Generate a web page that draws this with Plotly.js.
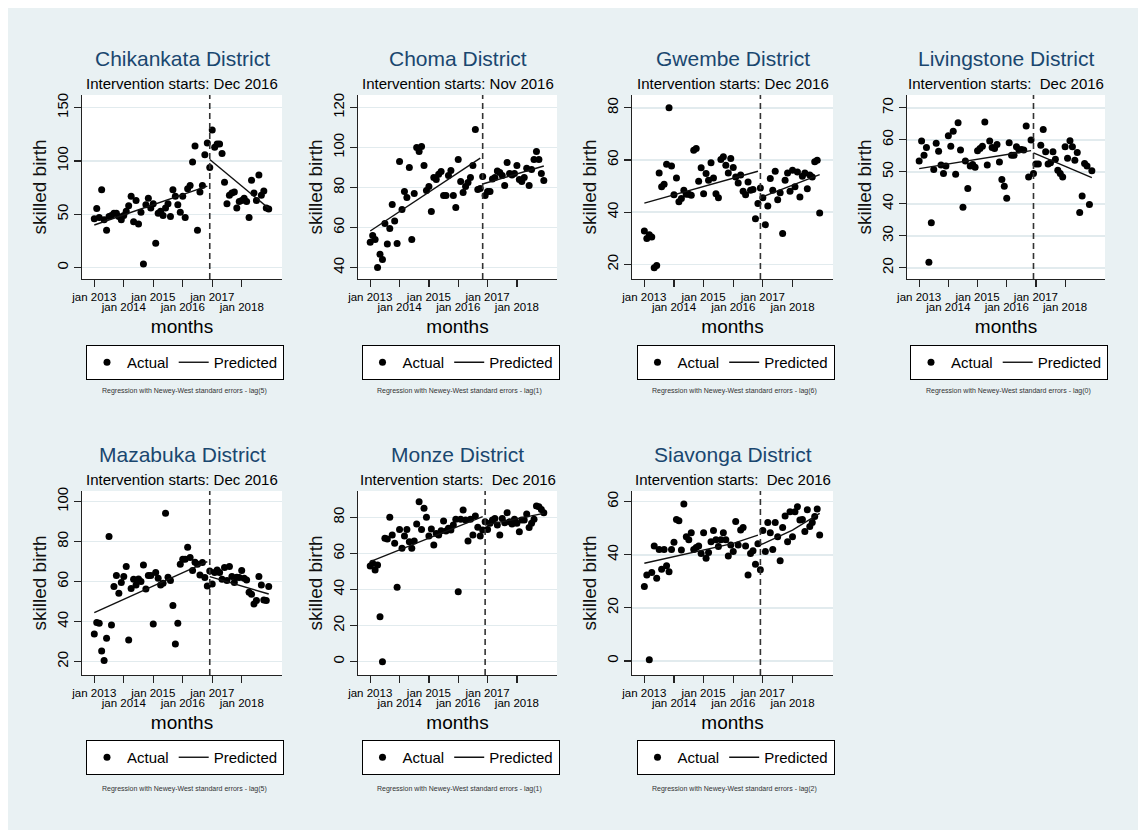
<!DOCTYPE html>
<html>
<head>
<meta charset="utf-8">
<script src="https://cdn.plot.ly/plotly-3.0.1.min.js"></script>
<style>
html,body{margin:0;padding:0;background:#ffffff;}
#chart{width:1138px;height:830px;}
</style>
</head>
<body>
<div id="chart"></div>
<script>
// ---------- DATA ----------
const districts = ["Chikankata District","Choma District","Gwembe District","Livingstone District","Mazabuka District","Monze District","Siavonga District"];
const interventionText = ["Intervention starts: Dec 2016","Intervention starts: Nov 2016","Intervention starts: Dec 2016","Intervention starts:\u00a0 Dec 2016","Intervention starts: Dec 2016","Intervention starts:\u00a0 Dec 2016","Intervention starts:\u00a0 Dec 2016"];
const interventionMonth = [47,46,47,47,47,47,47]; // months since jan 2013
const lagNotes = ["lag(5)","lag(1)","lag(6)","lag(0)","lag(5)","lag(1)","lag(2)"];
const tickMonths = [0,12,24,36,48,60];
const tickLabels = ["jan 2013","jan 2014","jan 2015","jan 2016","jan 2017","jan 2018"];
const nMonths = 72;

const chikankataActual = [46,55.6,47,73,45,35,48,49,51,51,48,45,49,53,58,67,43,63,41,52,3.4,59,65,56,60,23,51,53,49,56,60,48,73,67,59,52,67,47,74,77,99,114,35,71,77,106,117,94,
  129,113,116,116,107,80,60,68,70,71,56,62,63,65,62,47,82,70,63,87,68,72,56,55];
const chomaActual = [52.7,56,54,40,46.7,44,62,51.8,59.5,71.5,63.3,52,93,69,78,75,90,54,77,100,98,100.5,91,78.5,80.5,68,85,84,86.7,88,76,76,86,88.5,76,70,94,83,77.5,80.5,82.5,85,91,109,79,79.5,
  85.5,76,78,78,84.3,85,88.3,87.5,86,81,92.5,87,86.3,87,91,84,83,85,89.7,81,89,94,98,94,87,83.5];
const gwembeActual = [32.8,29.9,31.4,30.5,18.7,19.6,55,49.7,50.7,58.4,80,57.7,46.7,53.1,44,45.2,48.4,46.9,46.9,46.5,63.7,64.4,51.9,57,47.1,54.8,52.2,58.9,53.1,47.1,45.5,60.2,61.2,58,55,60.6,57.1,53.5,51.2,54.2,48,46.7,51.6,48.4,48.7,37.5,43.3,49.3,
  45.5,35.2,42.4,52.9,48.4,55.7,44.8,47.4,31.8,52.2,55,48,56.1,49.7,55.4,45.8,53.8,55,49,54.2,53.5,59.3,59.9,39.7];
const livingstoneActual = [53.4,59.6,55.2,57.6,21.7,34.1,50.7,58.9,56.4,52.1,49.5,51.8,61.3,58,62.7,49.2,65.3,56.8,38.9,53.4,44.8,51.8,52.3,51.4,56.6,57.3,58,65.6,52.1,59.6,57.6,57.3,58.5,53.1,47.6,45.5,41.7,59.1,55.2,55.2,57.8,56.8,57,56.8,64.3,48.4,59.9,49.5,
  52.4,52.4,58.3,63.2,56.3,52.4,52.8,56.3,53.9,50.5,49.5,48.4,57.8,54.2,59.7,57.8,53.6,56,37.3,42.4,52.6,51.8,39.8,50.3];
const mazabukaActual = [33.8,39.5,39.2,25.3,20.5,31.7,82.5,38.3,57.5,63,54.2,59.5,62.5,67.5,30.8,56.5,61.2,58.3,61.3,60,68.3,56.3,63,63,38.8,64.5,61.7,58.3,59.2,94.2,62.2,60.5,48,28.8,39.2,68.7,71.2,71.2,77.2,72,65.5,69.7,68.7,63.3,69.5,62,57.8,65.3,
  58.8,64.5,65.8,64.5,61.2,67,60.5,67.5,62.5,59.5,62.2,62,65.5,61.7,60.8,54.7,53.7,48.8,50.5,62.5,58.3,50.8,50.5,57.5];
const monzeActual = [53,54.5,50.8,53.6,24.9,0,68.4,68,80,70.2,65.6,41.2,73.3,62.8,69.7,73.3,66.5,62.8,66.9,76.3,88.7,73.3,85,80,69.7,73.5,64.7,71.1,70.2,72.6,78,72.4,73.9,73,75.7,78.9,38.8,78.9,84.1,78.5,66.9,78.9,70.2,80.7,74.5,69.7,73,77.6,
  73.3,76.7,78.5,79.4,75.7,70.2,79.4,77,82.6,77.6,76.3,78.9,76.7,72,78.5,78.5,81.8,74.3,76.7,78.9,86.3,85.9,84.4,82.6];
const siavongaActual = [28,32.4,0.4,33.3,43.3,31.1,42,34.5,42,35.8,33.6,42,44.7,53.3,52.8,41.8,59.1,46.8,45.6,48.3,42,42.7,43.3,40.5,48.3,38.7,40.8,44.9,49.1,45.6,43.1,45.6,48.3,45.6,39.5,43.7,41.2,52.5,43.7,49.3,50.3,43.3,32.4,40.5,41.5,36.4,44.1,34.3,
  49.1,41.2,52.1,48.3,42,52.1,46.8,37.7,50.3,54.6,44.9,56.2,46.8,56.2,58.1,53.1,53.3,48.7,56.9,50.6,52.1,54.4,57.2,47.4];

// Predicted (fitted) values: month index and value, pre- and post-intervention
const chikankataPreX = [0,46],  chikankataPreY = [40,76.5],   chikankataPostX = [47,71], chikankataPostY = [101.5,55.6];
const chomaPreX = [0,45],       chomaPreY = [58.3,94.7],      chomaPostX = [46,71],      chomaPostY = [81.8,90.8];
const gwembePreX = [0,46],      gwembePreY = [43.5,55.7],     gwembePostX = [47,71],     gwembePostY = [45.6,54.4];
const livingstonePreX = [0,46], livingstonePreY = [51,56.6],  livingstonePostX = [47,71],livingstonePostY = [55.9,48.2];
const mazabukaPreX = [0,46],    mazabukaPreY = [44.5,70],     mazabukaPostX = [47,71],   mazabukaPostY = [62.5,53.8];
const monzePreX = [0,46],       monzePreY = [55.4,80.4],      monzePostX = [47,71],      monzePostY = [75.7,82.2];
const siavongaPreX = [0,36,46], siavongaPreY = [36.8,44.3,47.4], siavongaPostX = [47,60,71], siavongaPostY = [43.7,49.3,55.6];

const actualSeries = [chikankataActual,chomaActual,gwembeActual,livingstoneActual,mazabukaActual,monzeActual,siavongaActual];
const preX = [chikankataPreX,chomaPreX,gwembePreX,livingstonePreX,mazabukaPreX,monzePreX,siavongaPreX];
const preY = [chikankataPreY,chomaPreY,gwembePreY,livingstonePreY,mazabukaPreY,monzePreY,siavongaPreY];
const postX = [chikankataPostX,chomaPostX,gwembePostX,livingstonePostX,mazabukaPostX,monzePostX,siavongaPostX];
const postY = [chikankataPostY,chomaPostY,gwembePostY,livingstonePostY,mazabukaPostY,monzePostY,siavongaPostY];

// y-axis ticks per panel
const yTicks = [[0,50,100,150],[40,60,80,100,120],[20,40,60,80],[20,30,40,50,60,70],[20,40,60,80,100],[0,20,40,60,80],[0,20,40,60]];

// ---------- LAYOUT ----------
const W = 1138, H = 830;
const FONT = "Liberation Sans, Arial, Helvetica, sans-serif";
const BG = "#e9f1f3";
const months = Array.from({length:nMonths}, (_, i) => i);

const colPx = [[82,282],[358,557],[632,833],[907,1105]];
const rowPx = [[95,279],[491,675]];
const yRanges = [[-10.6,161.9],[34.3,126.3],[14.4,84.9],[16.5,74.0],[13.3,105.3],[-7.4,94.6],[-5.3,64.0]];
const xRange = [-5, 76.4];

const traces = [];
const layout = {
  width: W, height: H,
  margin: {l:0, r:0, t:0, b:0},
  paper_bgcolor: BG,
  plot_bgcolor: "#ffffff",
  font: {family: FONT, color: "#000"},
  showlegend: true,
  annotations: [],
  shapes: [
    {type:"rect", xref:"paper", yref:"paper", x0:0, x1:8/W, y0:0, y1:1, fillcolor:"#ffffff", line:{width:0}, layer:"below"},
    {type:"rect", xref:"paper", yref:"paper", x0:0, x1:1, y0:1-8/H, y1:1, fillcolor:"#ffffff", line:{width:0}, layer:"below"}
  ]
};

for (let k = 0; k < 7; k++) {
  const n = k + 1;
  const row = k < 4 ? 0 : 1;
  const col = k < 4 ? k : k - 4;
  const xs = n === 1 ? "" : String(n);
  const xName = "x" + xs, yName = "y" + xs;
  const ovName = "x" + (7 + n);
  const legName = "legend" + xs;
  const [px0, px1] = colPx[col];
  const [py0, py1] = rowPx[row];
  const xDom = [px0 / W, px1 / W];
  const yDom = [1 - py1 / H, 1 - py0 / H];
  const cx = (px0 + px1) / 2;

  // traces
  traces.push({
    type:"scatter", mode:"markers", x: months, y: actualSeries[k],
    xaxis: xName, yaxis: yName, name:"Actual", legend: legName,
    marker:{color:"#000", size:7}, cliponaxis:false, hoverinfo:"skip"
  });
  traces.push({
    type:"scatter", mode:"lines", x: preX[k], y: preY[k],
    xaxis: xName, yaxis: yName, name:"Predicted", legend: legName,
    line:{color:"#111", width:1.4}, hoverinfo:"skip"
  });
  traces.push({
    type:"scatter", mode:"lines", x: postX[k], y: postY[k],
    xaxis: xName, yaxis: yName, name:"Predicted", legend: legName, showlegend:false,
    line:{color:"#111", width:1.4}, hoverinfo:"skip"
  });
  // empty carrier trace so the overlay axis (staggered tick labels) is drawn
  traces.push({
    type:"scatter", mode:"markers", x:[null], y:[null],
    xaxis: ovName, yaxis: yName, showlegend:false, legend: legName, hoverinfo:"skip"
  });

  // main axes
  layout["xaxis" + xs] = {
    domain: xDom, anchor: yName, range: xRange,
    tickmode:"array", tickvals: tickMonths,
    ticktext: tickLabels.map((t, i) => i % 2 === 0 ? t : ""),
    ticks:"outside", ticklen:7, tickwidth:1.2, tickcolor:"#222",
    tickfont:{size:11.5, color:"#000", family:FONT},
    showline:true, linecolor:"#222", linewidth:1.2,
    showgrid:false, zeroline:false,
    title:{text:"months", font:{size:19, color:"#000", family:FONT}, standoff:17}
  };
  layout["yaxis" + xs] = {
    domain: yDom, anchor: xName, range: yRanges[k],
    tickmode:"array", tickvals: yTicks[k],
    ticks:"outside", ticklen:7, tickwidth:1.2, tickcolor:"#222",
    tickangle:-90, tickfont:{size:15, color:"#000", family:FONT},
    showline:true, linecolor:"#222", linewidth:1.2,
    showgrid:true, gridcolor:"#e2ebee", gridwidth:1.6, zeroline:false,
    title:{text:"skilled birth", font:{size:19, color:"#111", family:FONT}, standoff:2}
  };
  // overlay axis for the staggered (second-row) tick labels
  layout["xaxis" + (7 + n)] = {
    overlaying: xName, anchor: yName, side:"bottom", range: xRange,
    tickmode:"array", tickvals: tickMonths.filter((_, i) => i % 2 === 1),
    ticktext: tickLabels.filter((_, i) => i % 2 === 1),
    ticks:"", showline:false, showgrid:false, zeroline:false,
    ticklabelstandoff: 19,
    tickfont:{size:11.5, color:"#000", family:FONT}
  };

  // intervention line
  layout.shapes.push({
    type:"line", xref:xName, yref:yName + " domain",
    x0: interventionMonth[k], x1: interventionMonth[k], y0:0, y1:1,
    line:{color:"#333", width:1.6, dash:"6px,4px"}
  });

  // titles
  const titleY = row === 0 ? 58.3 : 454;
  const subY = row === 0 ? 83.3 : 479.3;
  layout.annotations.push({
    xref:"paper", yref:"paper", x: cx / W, y: 1 - titleY / H,
    xanchor:"center", yanchor:"middle", showarrow:false,
    text: districts[k], font:{size:21, color:"#1a476f", family:FONT}
  });
  layout.annotations.push({
    xref:"paper", yref:"paper", x: cx / W, y: 1 - subY / H,
    xanchor:"center", yanchor:"middle", showarrow:false,
    text: interventionText[k], font:{size:15, color:"#000", family:FONT}
  });
  // note
  const noteY = row === 0 ? 391 : 789;
  layout.annotations.push({
    xref:"paper", yref:"paper", x: (cx + 2) / W, y: 1 - noteY / H,
    xanchor:"center", yanchor:"middle", showarrow:false,
    text: "Regression with Newey-West standard errors - " + lagNotes[k],
    font:{size:7, color:"#333", family:FONT}
  });

  // legend
  const legTop = row === 0 ? 345 : 740;
  layout[legName] = {
    orientation:"h", x: (cx + 3) / W, xanchor:"center", y: 1 - legTop / H, yanchor:"top",
    bgcolor:"#ffffff", bordercolor:"#000", borderwidth:1,
    font:{size:15, color:"#000", family:FONT},
    itemwidth:30, traceorder:"normal", itemclick:false, itemdoubleclick:false
  };
}

Plotly.newPlot("chart", traces, layout, {displayModeBar:false, staticPlot:true});
</script>
</body>
</html>
